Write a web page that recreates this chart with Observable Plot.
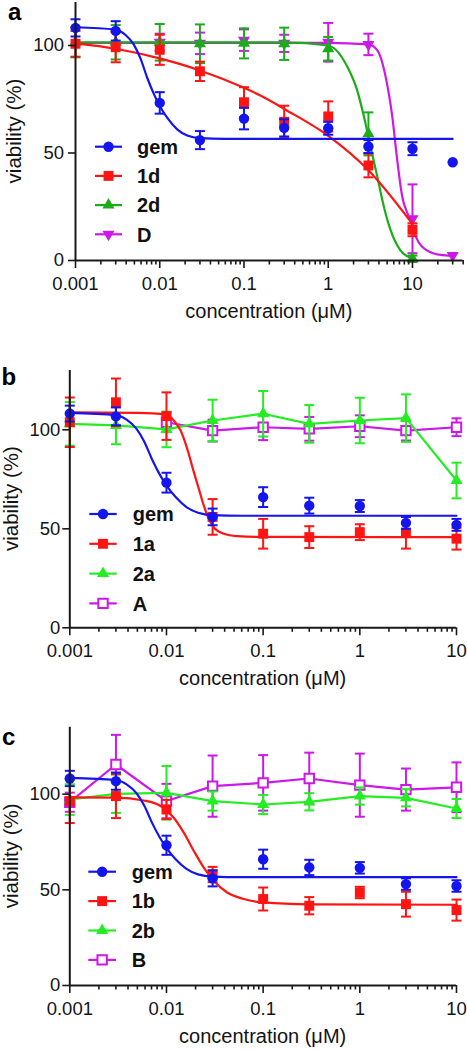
<!DOCTYPE html>
<html><head><meta charset="utf-8">
<script src="https://cdn.jsdelivr.net/npm/d3@7"></script>
<script src="https://cdn.jsdelivr.net/npm/@observablehq/plot@0.6"></script>
<style>
html,body{margin:0;padding:0;background:#fff;width:467px;height:1050px;overflow:hidden}
svg{display:block}
</style>
</head><body><div id="chart"></div>
<script>
// ---------- axis / text ----------
const xTicks = [0.001, 0.01, 0.1, 1, 10];
const xTickLabels = ["0.001", "0.01", "0.1", "1", "10"];
const yTicks = [0, 50, 100];
const yTickLabels = ["0", "50", "100"];
const xTitle = "concentration (μM)";
const yTitle = "viability (%)";
const panelLetters = ["a", "b", "c"];

// ---------- concentrations ----------
const concA = [0.001, 0.003, 0.01, 0.03, 0.1, 0.3, 1, 3, 10, 30];
const conc = [0.001, 0.003, 0.01, 0.03, 0.1, 0.3, 1, 3, 10];
const concFrom001 = [0.01, 0.03, 0.1, 0.3, 1, 3, 10];
const concDA = [0.01, 0.03, 0.1, 0.3, 1, 3, 10, 30];

// ---------- gem (shown in all panels) ----------
const gemMean = [108.2, 106.8, 73.3, 56.0, 66.0, 61.7, 61.5, 53.0, 52.0, 45.7];
const gemErr = [4, 4.5, 5, 4.2, 5, 4, 3, 3, 3, 0];
const gemCurveX = [0.001, 0.003, 0.0039, 0.0049, 0.0059, 0.0071, 0.0085, 0.0102, 0.0123, 0.0161, 0.0212, 0.03, 0.06, 10, 30];
const gemCurveY = [108.5, 107.4, 105, 100.5, 94, 85, 77.5, 71.3, 66.3, 61, 58.1, 56.9, 56.6, 56.6, 56.6];

// ---------- panel a ----------
const d1Mean = [100.8, 99.2, 98.0, 88.0, 73.6, 64.5, 67.0, 44.2, 14.3];
const d1Err = [6, 7, 7, 4.5, 7, 7.5, 7, 5.5, 3];
const d1CurveX = [0.001, 0.003, 0.01, 0.03, 0.1, 0.157, 0.3, 1, 3, 10];
const d1CurveY = [101, 98.5, 94, 88.4, 80.3, 76.7, 70.5, 58, 42, 17];
const d2Mean = [101.5, 101.5, 101.5, 100.8, 101.0, 100.8, 98.5, 58.9, 0.8];
const d2Err = [7, 8, 8.5, 9, 7, 7.5, 5.5, 10, 1.5];
const d2CurveX = [0.001, 0.3, 1, 1.69, 2.21, 2.66, 3.19, 3.83, 4.59, 5.51, 7.24, 10];
const d2CurveY = [101.5, 101.5, 100, 90, 79, 66.7, 52.7, 38.8, 24.8, 14, 4.6, 0.8];
const DMean = [101.5, 101.0, 102.5, 101.0, 101.5, 100.5, 19.4, 2.3];
const DErr = [4, 5, 5, 4, 9, 5, 16, 0];
const DCurveX = [0.001, 1, 3, 3.83, 4.81, 5.77, 6.6, 7.58, 8.7, 10, 11, 15, 21.6, 30];
const DCurveY = [101.2, 101.2, 100.5, 97.7, 85.3, 66.7, 46.5, 29.4, 22, 16, 11, 4.6, 2.6, 2.2];

// ---------- panel b ----------
const a1Mean = [103.8, 113.9, 106.9, 56.0, 47.5, 45.8, 48.3, 48.0, 45.0];
const a1Err = [12.5, 12, 12, 9, 7.5, 5.5, 4, 8, 5.5];
const a1CurveX = [0.001, 0.005, 0.01, 0.0119, 0.014, 0.0164, 0.0192, 0.0216, 0.0243, 0.0274, 0.0308, 0.0392, 0.0538, 0.084, 10];
const a1CurveY = [108.8, 108.5, 107.6, 104.7, 99.6, 90.4, 78.6, 70.2, 61.8, 55, 50.8, 47.5, 46.3, 45.9, 45.8];
const a2Mean = [103.0, 102.2, 100.2, 104.7, 108.1, 103.0, 104.7, 105.9, 74.4];
const a2Err = [11, 9.5, 9, 10.5, 11.5, 9.5, 11.5, 12, 9];
const AMean = [103.8, 99.6, 101.3, 100.5, 101.8, 99.6, 101.3];
const AErr = [5, 5.5, 6.5, 6, 5.5, 5, 4.5];

// ---------- panel c ----------
const b1Mean = [96.4, 99.0, 92.0, 58.0, 45.2, 41.7, 48.6, 42.5, 39.4];
const b1Err = [11.5, 11.5, 5, 4, 6, 4.5, 3, 6.5, 5.5];
const b1CurveX = [0.001, 0.003, 0.0058, 0.0087, 0.0119, 0.0151, 0.0192, 0.0243, 0.0308, 0.0424, 0.063, 0.1, 0.3, 10];
const b1CurveY = [98.3, 98.2, 96.7, 93.8, 87.7, 79.9, 70.3, 61.6, 54.7, 48.6, 45.2, 43.4, 42.4, 42.2];
const b2Mean = [97.2, 100.2, 100.7, 96.4, 94.6, 96.0, 99.0, 98.1, 92.5];
const b2Err = [8, 10, 14, 5, 5, 4.5, 4.5, 4.5, 5];
const BMean = [95.8, 115.5, 96.4, 104.2, 105.9, 108.2, 104.7, 102.4, 103.6];
const BErr = [5, 15.5, 9, 16, 14.5, 13.5, 16.5, 11, 13];

// ---------- styles ----------
const FONT = "'Liberation Sans', Arial, Helvetica, sans-serif";
const BLUE = "#1414ee", RED = "#ff1414", GREEN_A = "#1aad1a", GREEN_B = "#22ee22", MAGENTA = "#cc18e8";
const AXIS = "#1a1a1a", TEXT = "#141414";

const triangleDown = { draw(ctx, size) { const y = Math.sqrt(size / (3 * Math.sqrt(3))); ctx.moveTo(0, 2 * y); ctx.lineTo(-Math.sqrt(3) * y, -y); ctx.lineTo(Math.sqrt(3) * y, -y); ctx.closePath(); } };
const capSymbol = { draw(ctx, size) { const r = Math.sqrt(size / Math.PI); ctx.moveTo(-r, 0); ctx.lineTo(r, 0); } };

function rows(cs, mean, err) { return cs.map((c, i) => ({x: c, y: mean[i], e: err ? err[i] : 0})); }
function pts(xs, ys, maxX) { return xs.map((x, i) => ({x, y: ys[i]})).filter(d => d.x <= maxX); }

const SYM = {
  circle: {symbol: "circle", r: 5.2, open: false},
  square: {symbol: "square", r: 5.6, open: false},
  triangle: {symbol: "triangle", r: 4.5, open: false},
  triDown: {symbol: triangleDown, r: 4.5, open: false},
  openSquare: {symbol: "square", r: 5.3, open: true}
};

function seriesMarks(s, maxX) {
  const data = rows(s.conc, s.mean, s.err).filter(d => d.x <= maxX);
  const eb = data.filter(d => d.e > 0);
  const m = SYM[s.sym];
  const out = [];
  if (s.curveX) out.push(Plot.line(pts(s.curveX, s.curveY, maxX), {x: "x", y: "y", stroke: s.color, strokeWidth: 2.2, curve: "monotone-x"}));
  else out.push(Plot.line(data, {x: "x", y: "y", stroke: s.color, strokeWidth: 2.2}));
  out.push(Plot.ruleX(eb, {x: "x", y1: d => d.y - d.e, y2: d => d.y + d.e, stroke: s.color, strokeWidth: 2}));
  out.push(Plot.dot(eb, {x: "x", y: d => d.y + d.e, symbol: capSymbol, r: 5, stroke: s.color, strokeWidth: 2, fill: "none"}));
  out.push(Plot.dot(eb, {x: "x", y: d => d.y - d.e, symbol: capSymbol, r: 5, stroke: s.color, strokeWidth: 2, fill: "none"}));
  out.push(Plot.dot(data, {x: "x", y: "y", symbol: m.symbol, r: m.r, fill: m.open ? "white" : s.color, stroke: m.open ? s.color : "none", strokeWidth: m.open ? 2 : 0}));
  return out;
}

function minorTicks(maxX) {
  const out = [];
  [0.001, 0.01, 0.1, 1, 10].forEach(dec => [2, 3, 4, 5, 6, 7, 8, 9].forEach(k => { const v = +(dec * k).toPrecision(3); if (v <= maxX) out.push(v); }));
  return out;
}

function makePanel(cfg) {
  const maxX = cfg.xDomain[1];
  const labelMap = new Map(xTicks.map((t, i) => [t, xTickLabels[i]]));
  const yLabelMap = new Map(yTicks.map((t, i) => [t, yTickLabels[i]]));
  const marks = [];
  cfg.drawOrder.forEach(s => marks.push(...seriesMarks(s, maxX)));
  marks.push(
    Plot.axisX(minorTicks(maxX), {tickSize: 4.5, stroke: AXIS, strokeWidth: 1.6, tickFormat: () => "", label: null}),
    Plot.axisX(xTicks.filter(t => t <= maxX), {tickSize: 8, tickPadding: 8.4, stroke: AXIS, strokeWidth: 1.6, fill: TEXT, fontSize: 18.5, tickFormat: d => labelMap.get(d), label: null}),
    Plot.axisY(yTicks, {tickSize: 7, tickPadding: cfg.yPad, stroke: AXIS, strokeWidth: 1.6, fill: TEXT, fontSize: 18.5, tickFormat: d => yLabelMap.get(d), label: null}),
    Plot.ruleX([cfg.xDomain[0]], {stroke: AXIS, strokeWidth: 2}),
    Plot.ruleY([0], {stroke: AXIS, strokeWidth: 2})
  );
  const svg = Plot.plot({
    width: 467, height: cfg.height,
    marginTop: cfg.mt, marginBottom: cfg.mb, marginLeft: cfg.ml, marginRight: cfg.mr,
    style: {fontFamily: FONT, background: "white", color: TEXT, overflow: "visible"},
    x: {type: "log", domain: cfg.xDomain},
    y: {domain: cfg.yDomain},
    marks
  });
  const sel = d3.select(svg);
  const fx0 = cfg.ml, fx1 = 467 - cfg.mr, fy0 = cfg.mt, fy1 = cfg.height - cfg.mb;
  // panel letter
  sel.append("text").attr("x", cfg.letterX).attr("y", cfg.letterY).attr("text-anchor", "start").attr("font-size", 24).attr("font-weight", "bold")
    .attr("font-family", FONT).attr("fill", "#000").text(cfg.letter);
  // axis titles
  sel.append("text").attr("x", (fx0 + fx1) / 2).attr("y", fy1 + 58).attr("text-anchor", "middle")
    .attr("font-size", 20).attr("font-family", FONT).attr("fill", TEXT).text(xTitle);
  sel.append("text").attr("transform", `translate(${fx0 - cfg.yTitleOff},${(fy0 + fy1) / 2}) rotate(-90)`).attr("text-anchor", "middle")
    .attr("font-size", 20.5).attr("font-family", FONT).attr("fill", TEXT).text(yTitle);
  // legend
  const lg = sel.append("g").attr("text-anchor", "start");
  cfg.legendOrder.forEach((s, i) => {
    const y = cfg.legY + i * cfg.legDy;
    const m = SYM[s.sym];
    lg.append("line").attr("x1", cfg.legX1).attr("x2", cfg.legX2).attr("y1", y).attr("y2", y).attr("stroke", s.color).attr("stroke-width", 2.2);
    const symType = typeof m.symbol === "string" ? ({circle: d3.symbolCircle, square: d3.symbolSquare, triangle: d3.symbolTriangle})[m.symbol] : m.symbol;
    lg.append("path").attr("d", d3.symbol(symType, Math.PI * m.r * m.r)()).attr("transform", `translate(${(cfg.legX1 + cfg.legX2) / 2},${y})`)
      .attr("fill", m.open ? "white" : s.color).attr("stroke", m.open ? s.color : "none").attr("stroke-width", m.open ? 2 : 0);
    lg.append("text").attr("x", cfg.legTX).attr("y", y + 7.2).attr("text-anchor", "start").attr("font-size", 20).attr("font-weight", "bold")
      .attr("font-family", FONT).attr("fill", "#111").text(s.name);
  });
  return svg;
}

// ---------- series definitions ----------
const gemS = {name: "gem", conc: concA, mean: gemMean, err: gemErr, color: BLUE, sym: "circle", curveX: gemCurveX, curveY: gemCurveY};
const d1S = {name: "1d", conc: conc, mean: d1Mean, err: d1Err, color: RED, sym: "square", curveX: d1CurveX, curveY: d1CurveY};
const d2S = {name: "2d", conc: conc, mean: d2Mean, err: d2Err, color: GREEN_A, sym: "triangle", curveX: d2CurveX, curveY: d2CurveY};
const DS = {name: "D", conc: concDA, mean: DMean, err: DErr, color: MAGENTA, sym: "triDown", curveX: DCurveX, curveY: DCurveY};

const a1S = {name: "1a", conc: conc, mean: a1Mean, err: a1Err, color: RED, sym: "square", curveX: a1CurveX, curveY: a1CurveY};
const a2S = {name: "2a", conc: conc, mean: a2Mean, err: a2Err, color: GREEN_B, sym: "triangle"};
const AS = {name: "A", conc: concFrom001, mean: AMean, err: AErr, color: MAGENTA, sym: "openSquare"};

const b1S = {name: "1b", conc: conc, mean: b1Mean, err: b1Err, color: RED, sym: "square", curveX: b1CurveX, curveY: b1CurveY};
const b2S = {name: "2b", conc: conc, mean: b2Mean, err: b2Err, color: GREEN_B, sym: "triangle"};
const BS = {name: "B", conc: conc, mean: BMean, err: BErr, color: MAGENTA, sym: "openSquare"};

const root = document.getElementById("chart");
root.append(makePanel({
  letter: panelLetters[0], letterX: 8, letterY: 20,
  xDomain: [0.001, 40], yDomain: [0, 120], height: 335, mt: 2, mb: 75, ml: 75, mr: 4.3, yPad: 4.5, yTitleOff: 54,
  drawOrder: [DS, d2S, d1S, gemS], legendOrder: [gemS, d1S, d2S, DS],
  legY: 146.7, legDy: 29.2, legX1: 95, legX2: 122, legTX: 137
}));
root.append(makePanel({
  letter: panelLetters[1], letterX: 1.5, letterY: 50,
  xDomain: [0.001, 10], yDomain: [0, 130], height: 355, mt: 34.9, mb: 62.7, ml: 69.3, mr: 11, yPad: 2.5, yTitleOff: 51.7,
  drawOrder: [AS, a2S, a1S, gemS], legendOrder: [gemS, a1S, a2S, AS],
  legY: 179, legDy: 29.8, legX1: 89.3, legX2: 116.7, legTX: 132.7
}));
root.append(makePanel({
  letter: panelLetters[2], letterX: 2, letterY: 55,
  xDomain: [0.001, 10], yDomain: [0, 135], height: 360, mt: 36.7, mb: 65, ml: 69.3, mr: 11, yPad: 2.5, yTitleOff: 51.3,
  drawOrder: [BS, b2S, b1S, gemS], legendOrder: [gemS, b1S, b2S, BS],
  legY: 181.7, legDy: 29.4, legX1: 88.3, legX2: 116, legTX: 131.7
}));
</script></body></html>
